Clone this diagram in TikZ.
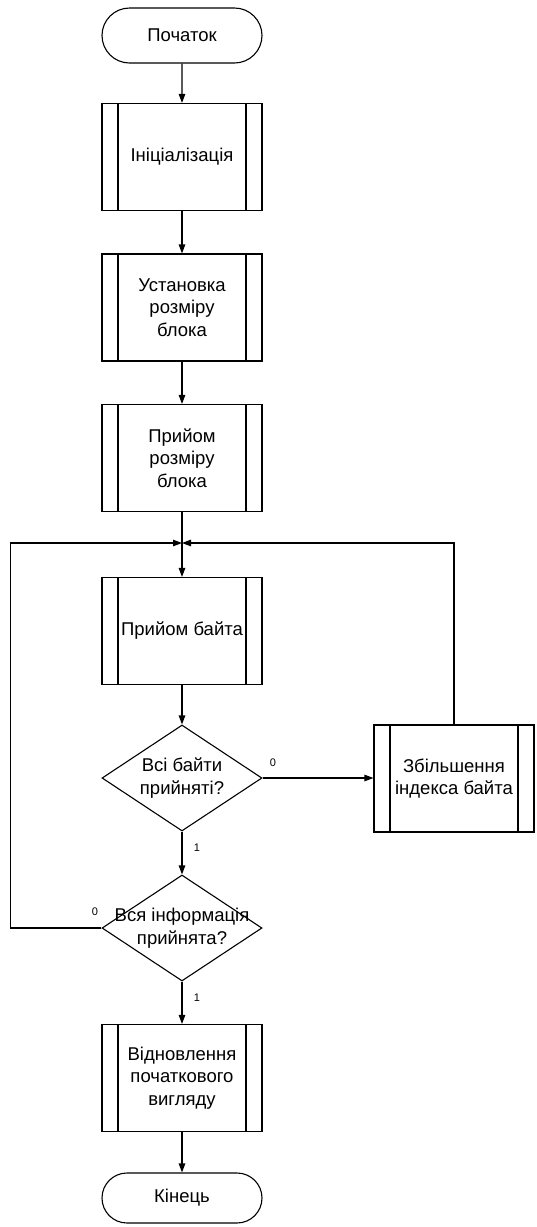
\documentclass[tikz,border=0pt]{standalone}
\usepackage{fontspec}
\setmainfont{Liberation Sans}
\usetikzlibrary{shapes.geometric,shapes.misc,arrows.meta}

\tikzset{
  base/.style={draw, line width=1.1pt, inner sep=0pt, align=center,
    font=\fontsize{18.5}{22.5}\selectfont},
  terminal/.style={base, rounded rectangle, minimum width=160pt, minimum height=55pt},
  subproc/.style={base, rectangle, minimum width=160pt, minimum height=107pt,
    path picture={
      \draw[line width=1.1pt]
        ([xshift=16pt]path picture bounding box.north west) --
        ([xshift=16pt]path picture bounding box.south west)
        ([xshift=-16pt]path picture bounding box.north east) --
        ([xshift=-16pt]path picture bounding box.south east);}},
  decision/.style={base, diamond, minimum width=160pt, minimum height=106pt},
  dtext/.style={font=\fontsize{18.5}{22.5}\selectfont, align=center, inner sep=0pt},
  flow/.style={line width=1.1pt, -{Triangle[length=9pt,width=6.5pt]}},
  branch/.style={font=\fontsize{11}{13}\selectfont, inner sep=0pt}
}

\begin{document}
\begin{tikzpicture}[x=1pt,y=-1pt]
  \useasboundingbox[fill=white] (0,0) rectangle (537,1227);

  % blocks of the main column
  \node[terminal] (start)    at (182,35.5)  {Початок};
  \node[subproc]  (init)     at (182,157)   {Ініціалізація};
  \node[subproc]  (setsize)  at (182,307.5) {Установка\\розміру\\блока};
  \node[subproc]  (recvsize) at (182,458)   {Прийом\\розміру\\блока};
  \node[subproc]  (recvbyte) at (182,631)   {Прийом байта};
  \node[decision, label={[dtext]center:Всі байти\\прийняті?}] (allbytes) at (182,778) {};
  \node[subproc]  (incidx)   at (454,778.5) {Збільшення\\індекса байта};
  \node[decision, label={[dtext]center:Вся інформація\\прийнята?}] (allinfo) at (182,928) {};
  \node[subproc]  (restore)  at (182,1078)  {Відновлення\\початкового\\вигляду};
  \node[terminal, minimum height=50pt] (finish) at (182,1198) {Кінець};

  % loop entry point
  \coordinate (join) at (182,543);

  % straight flow
  \draw[flow] (start) -- (init);
  \draw[flow] (init) -- (setsize);
  \draw[flow] (setsize) -- (recvsize);
  \draw[line width=1.1pt] (recvsize.south) -- (join);
  \draw[flow] (join) -- (recvbyte.north);
  \draw[flow] (recvbyte) -- (allbytes.north);
  \draw[flow] (allbytes.east) -- (allbytes.east -| incidx.west);
  \draw[flow] (allbytes.south) -- (allinfo.north);
  \draw[flow] (allinfo.south) -- (restore.north);
  \draw[flow] (restore) -- (finish);

  % loops back to the entry point
  \draw[flow] (incidx.north) |- (join);
  \draw[flow] (allinfo.west) -- ++(-91,0) |- (join);

  % branch labels
  \node[branch] (b0a) at (273,763)  {0};
  \node[branch] (b1a) at (197,848)  {1};
  \node[branch] (b0b) at (95,912)   {0};
  \node[branch] (b1b) at (197,998)  {1};
\end{tikzpicture}
\end{document}
